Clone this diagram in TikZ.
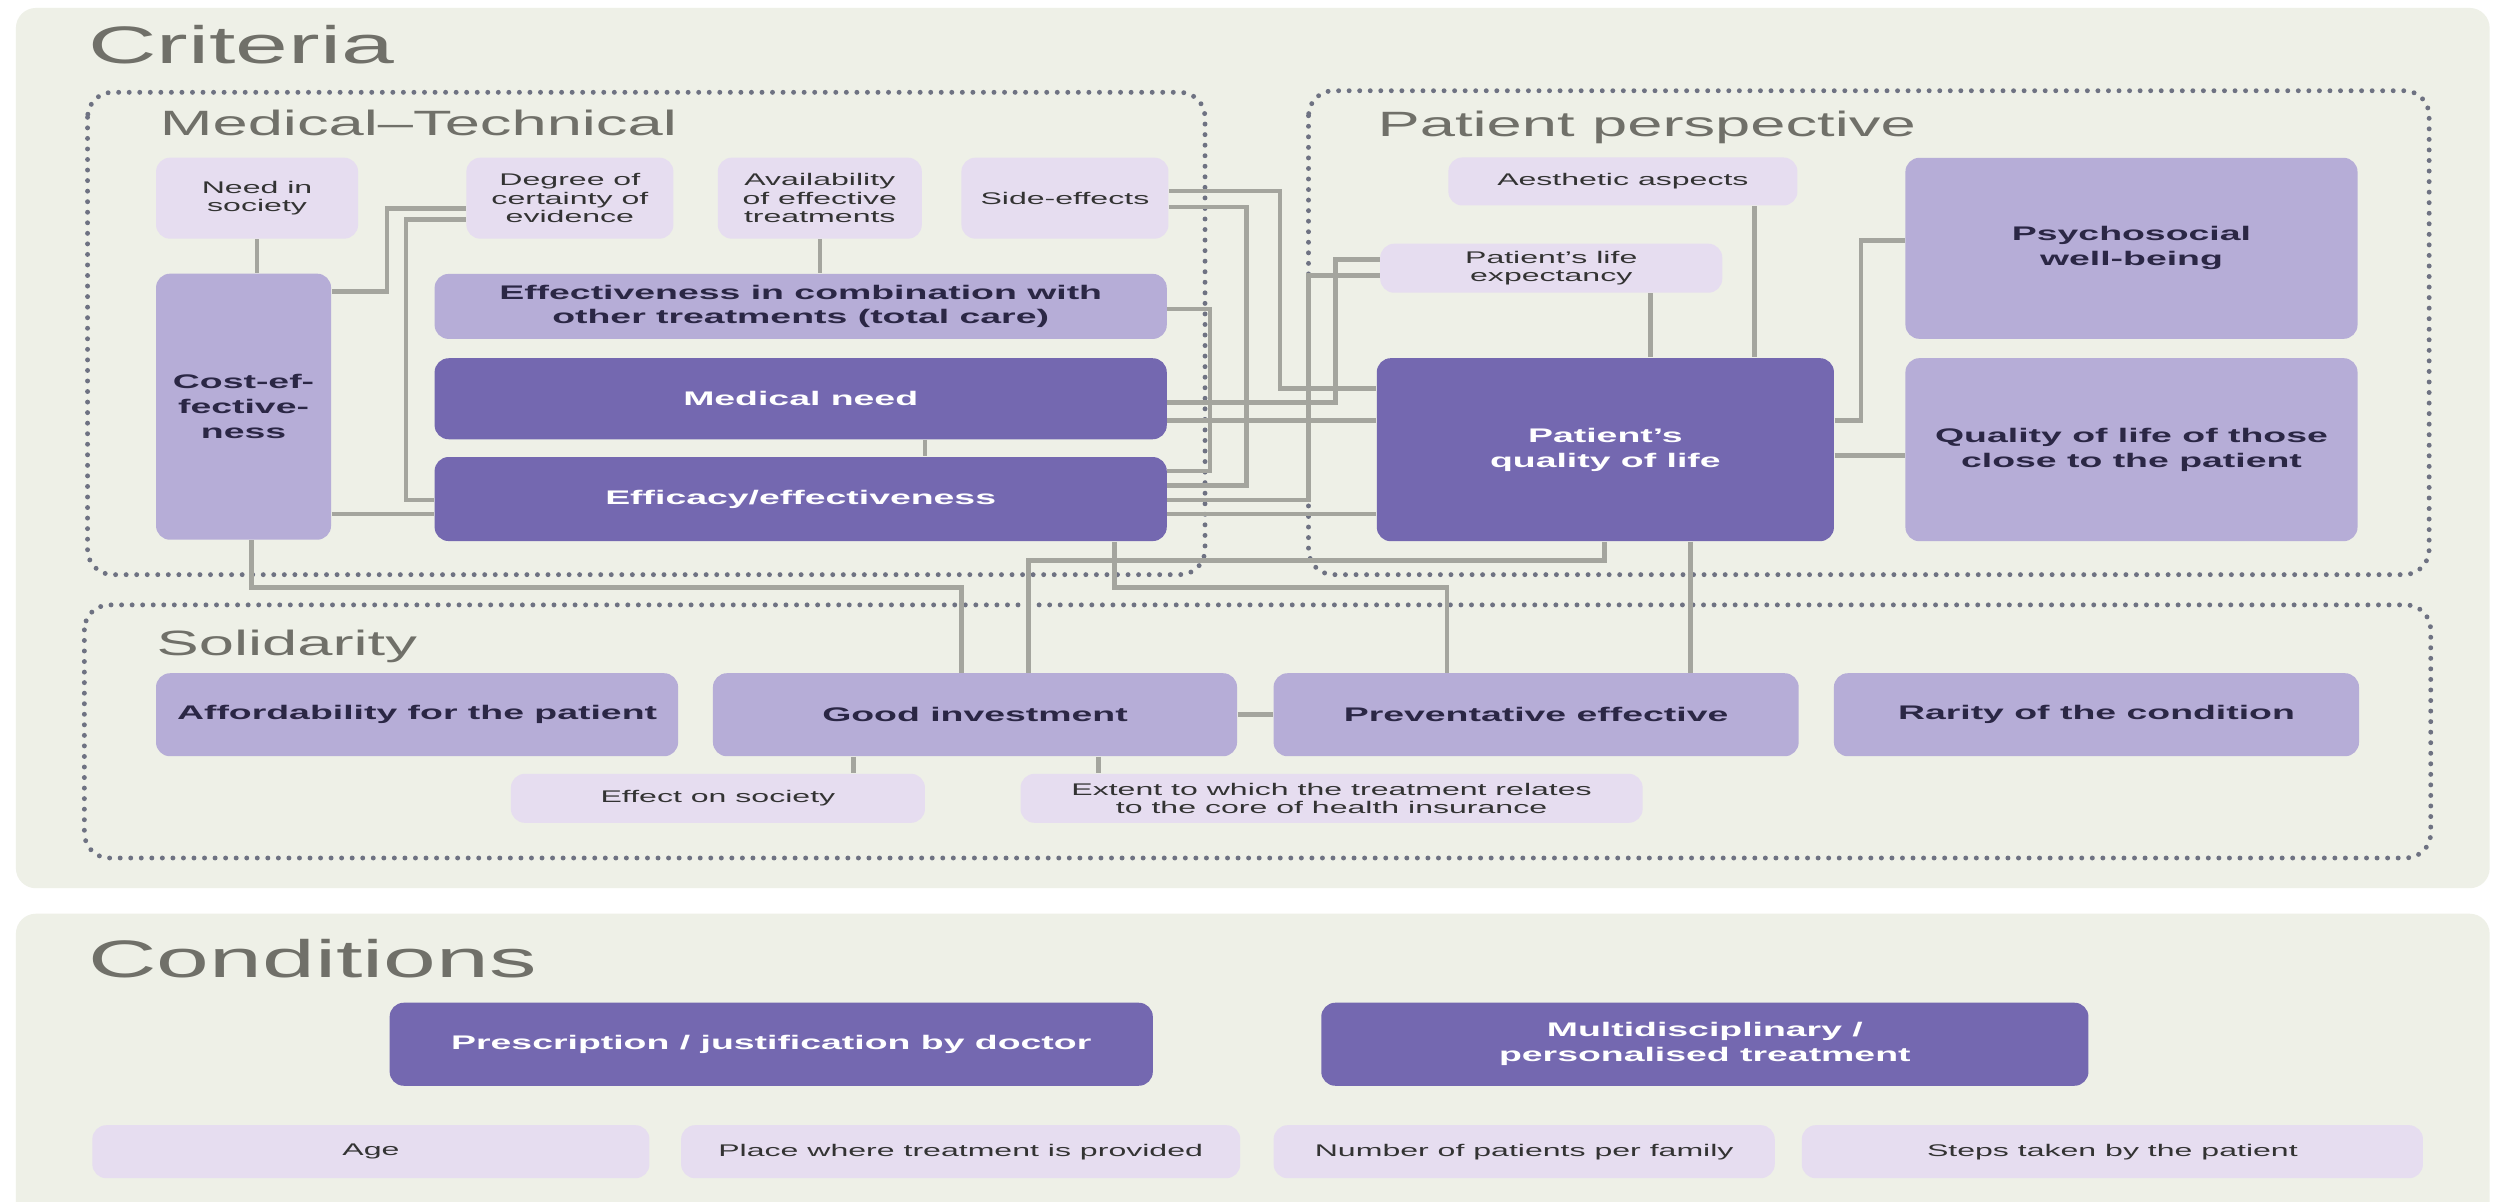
\documentclass[tikz,border=0pt]{standalone}
\usepackage{fontspec}
\setmainfont[FakeStretch=1.9]{Liberation Sans}
\newfontfamily\headfont[FakeStretch=1.8]{Liberation Sans}
\definecolor{panel}{HTML}{EEF0E7}
\definecolor{lightlav}{HTML}{E6DDF0}
\definecolor{midlav}{HTML}{B6ADD7}
\definecolor{darklav}{HTML}{7468B0}
\definecolor{linkgray}{HTML}{A4A59E}
\definecolor{dotgray}{HTML}{6E7282}
\definecolor{headgray}{HTML}{707069}
\definecolor{inktxt}{HTML}{2B2745}
\begin{document}
\begin{tikzpicture}[x=0.01592cm,y=-0.01592cm,
	box/.style={rounded corners=0.14cm,inner sep=0pt,align=center},
	small/.style={box,fill=lightlav,text=black!80,font=\fontsize{4.8}{5.2}\selectfont},
	mid/.style={box,fill=midlav,text=inktxt,font=\fontsize{5.6}{7.1}\selectfont\bfseries},
	dark/.style={box,fill=darklav,text=white,font=\fontsize{5.6}{7.1}\selectfont\bfseries},
	group/.style={draw=dotgray,line width=1.4pt,dash pattern=on 0pt off 3pt,line cap=round,rounded corners=0.25cm},
	link/.style={draw=linkgray,line width=1.3pt},
	head/.style={anchor=base west,text=headgray,inner sep=0pt}]
	\useasboundingbox (0,0) rectangle (1568,755);
	\fill[white] (0,0) rectangle (1568,755);
	\fill[panel,rounded corners=0.2cm] (10,5) rectangle (1564,558);
	\fill[panel,rounded corners=0.2cm] (10,574) rectangle (1564,780);
	% groups
	\draw[group] (55,58) rectangle (757,361);
	\draw[group] (822,57) rectangle (1526,361);
	\draw[group] (53,380) rectangle (1527,539);
	\node[head,font=\headfont\fontsize{15}{15}\selectfont] (criteria) at (55,40) {Criteria};
	\node[head,font=\headfont\fontsize{10}{10}\selectfont] (medtech) at (100,85) {Medical–Technical};
	\node[head,font=\headfont\fontsize{10}{10}\selectfont] (patient) at (865,86) {Patient perspective};
	\node[head,font=\headfont\fontsize{10}{10}\selectfont] (solid) at (98,412) {Solidarity};
	\node[head,font=\headfont\fontsize{15}{15}\selectfont] (conditions) at (55,614) {Conditions};
	% medical-technical
	\node[small,minimum width=2.02cm,minimum height=0.81cm] (need) at (161.5,124.5) {Need in\\society};
	\node[small,minimum width=2.07cm,minimum height=0.81cm] (degree) at (358,124.5) {Degree of\\certainty of\\evidence};
	\node[small,minimum width=2.04cm,minimum height=0.81cm] (avail) at (515,124.5) {Availability\\of effective\\treatments};
	\node[small,minimum width=2.07cm,minimum height=0.81cm] (side) at (669,124.5) {Side-effects};
	\node[mid,minimum width=1.75cm,minimum height=2.66cm] (cost) at (153,255.5) {Cost-ef-\\fective-\\ness};
	\node[mid,minimum width=7.32cm,minimum height=0.65cm] (combo) at (503,192.5) {Effectiveness in combination with\\other treatments (total care)};
	\node[dark,minimum width=7.32cm,minimum height=0.81cm] (medneed) at (503,250.5) {Medical need};
	\node[dark,minimum width=7.32cm,minimum height=0.84cm] (efficacy) at (503,313.5) {Efficacy/effectiveness};
	% patient perspective
	\node[small,minimum width=3.49cm,minimum height=0.48cm] (aesth) at (1019.5,114) {Aesthetic aspects};
	\node[small,minimum width=3.42cm,minimum height=0.49cm] (lifeexp) at (974.5,168.5) {Patient's life\\expectancy};
	\node[mid,minimum width=4.52cm,minimum height=1.81cm] (psycho) at (1339,156) {Psychosocial\\well-being};
	\node[mid,minimum width=4.52cm,minimum height=1.83cm] (close) at (1339,282.5) {Quality of life of those\\close to the patient};
	\node[dark,minimum width=4.57cm,minimum height=1.83cm] (qol) at (1008.5,282.5) {Patient's\\quality of life};
	% solidarity
	\node[mid,minimum width=5.22cm,minimum height=0.83cm] (afford) at (262,449) {Affordability for the patient};
	\node[mid,minimum width=5.24cm,minimum height=0.83cm] (invest) at (612.5,449) {Good investment};
	\node[mid,minimum width=5.25cm,minimum height=0.83cm] (prevent) at (965,449) {Preventative effective};
	\node[mid,minimum width=5.25cm,minimum height=0.83cm] (rarity) at (1317,449) {Rarity of the condition};
	\node[small,minimum width=4.14cm,minimum height=0.49cm] (society) at (451,501.5) {Effect on society};
	\node[small,minimum width=6.22cm,minimum height=0.49cm] (extent) at (836.5,501.5) {Extent to which the treatment relates\\to the core of health insurance};
	% conditions
	\node[dark,minimum width=7.63cm,minimum height=0.83cm] (prescr) at (484.5,656) {Prescription / justification by doctor};
	\node[dark,minimum width=7.67cm,minimum height=0.83cm] (multi) at (1071,656) {Multidisciplinary /\\personalised treatment};
	\node[small,minimum width=5.57cm,minimum height=0.53cm] (age) at (233,723.5) {Age};
	\node[small,minimum width=5.59cm,minimum height=0.53cm] (place) at (603.5,723.5) {Place where treatment is provided};
	\node[small,minimum width=5.01cm,minimum height=0.53cm] (number) at (957.5,723.5) {Number of patients per family};
	\node[small,minimum width=6.21cm,minimum height=0.53cm] (steps) at (1327,723.5) {Steps taken by the patient};
	% links
	\draw[link] (need.south) -- (need.south |- cost.north);
	\draw[link] (cost.east |- 0,183) -- (243,183) -- (243,131) -- (degree.west |- 0,131);
	\draw[link] (degree.west |- 0,138) -- (255,138) -- (255,314) -- (efficacy.west |- 0,314);
	\draw[link] (cost.east |- 0,323) -- (efficacy.west |- 0,323);
	\draw[link] (avail.south) -- (avail.south |- combo.north);
	\draw[link] (581,0 |- medneed.south) -- (581,0 |- efficacy.north);
	\draw[link] (158,0 |- cost.south) -- (158,369) -- (604,369) -- (604,0 |- invest.north);
	\draw[link] (700,0 |- efficacy.south) -- (700,369) -- (909,369) -- (909,0 |- prevent.north);
	\draw[link] (1008,0 |- qol.south) -- (1008,352) -- (646,352) -- (646,0 |- invest.north);
	\draw[link] (1062,0 |- qol.south) -- (1062,0 |- prevent.north);
	\draw[link] (invest.east) -- (prevent.west);
	\draw[link] (536,0 |- invest.south) -- (536,0 |- society.north);
	\draw[link] (690,0 |- invest.south) -- (690,0 |- extent.north);
	\draw[link] (side.east |- 0,120) -- (804,120) -- (804,244) -- (qol.west |- 0,244);
	\draw[link] (side.east |- 0,130) -- (783,130) -- (783,305) -- (efficacy.east |- 0,305);
	\draw[link] (combo.east |- 0,194) -- (760,194) -- (760,296) -- (efficacy.east |- 0,296);
	\draw[link] (lifeexp.west |- 0,163) -- (839,163) -- (839,253) -- (medneed.east |- 0,253);
	\draw[link] (lifeexp.west |- 0,173) -- (822,173) -- (822,314) -- (efficacy.east |- 0,314);
	\draw[link] (medneed.east |- 0,264) -- (qol.west |- 0,264);
	\draw[link] (efficacy.east |- 0,323) -- (qol.west |- 0,323);
	\draw[link] (1102,0 |- aesth.south) -- (1102,0 |- qol.north);
	\draw[link] (1037,0 |- lifeexp.south) -- (1037,0 |- qol.north);
	\draw[link] (qol.east |- 0,264) -- (1169,264) -- (1169,151) -- (psycho.west |- 0,151);
	\draw[link] (qol.east |- 0,286) -- (close.west |- 0,286);
\end{tikzpicture}
\end{document}
